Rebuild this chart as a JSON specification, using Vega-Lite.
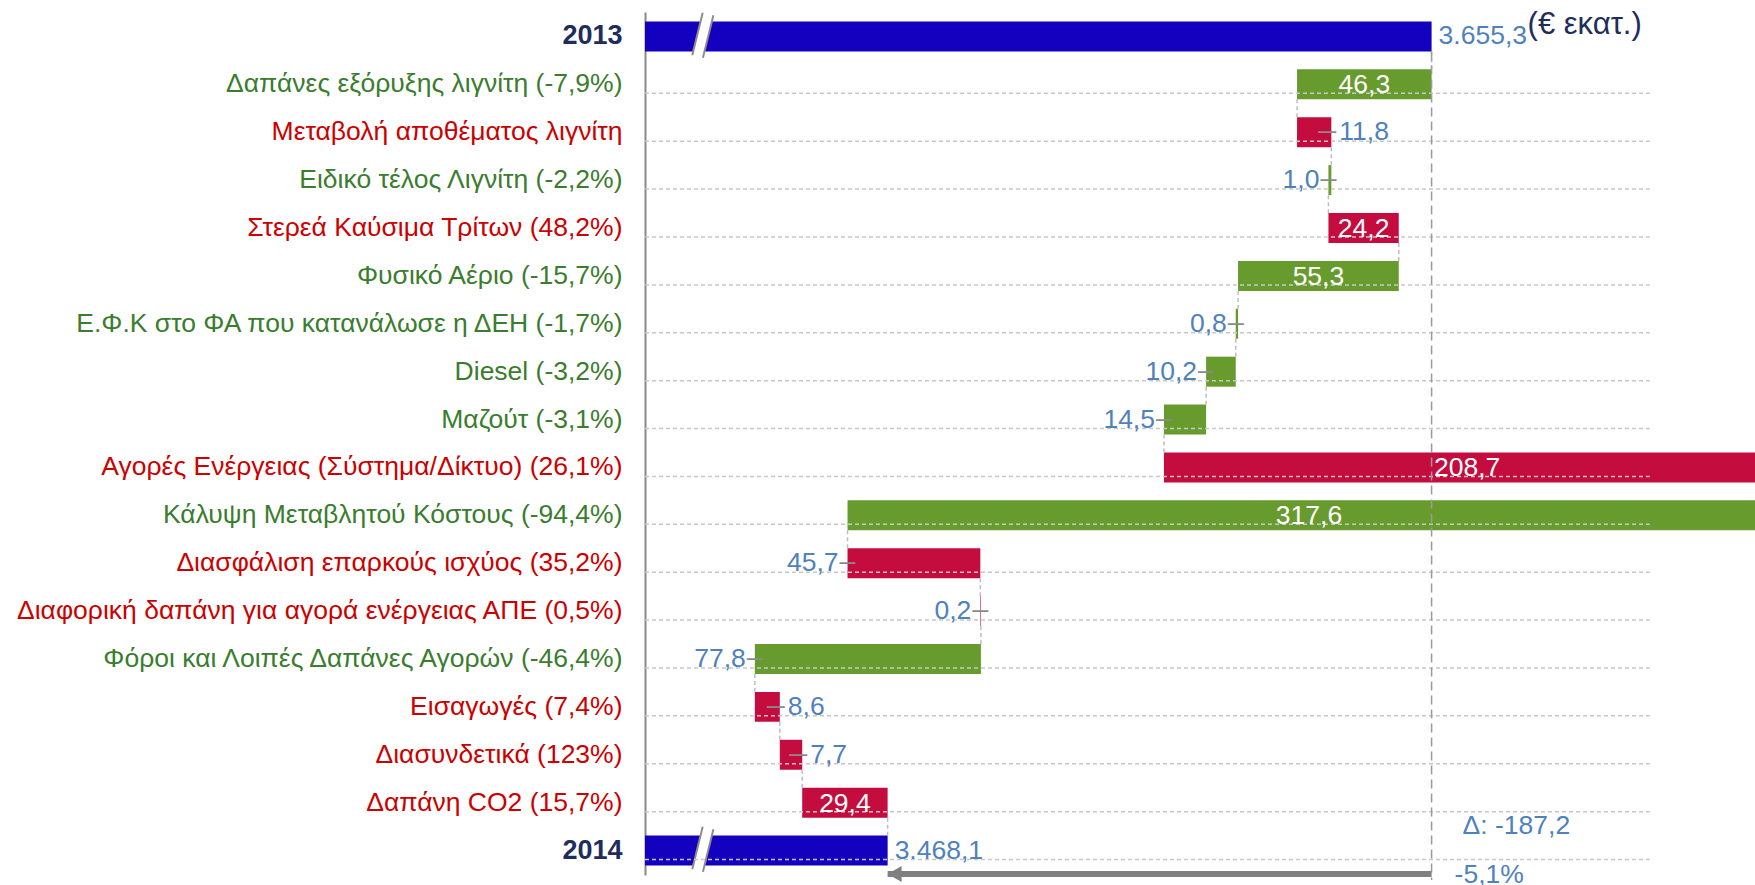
{
  "$schema": "https://vega.github.io/schema/vega-lite/v6.json",
  "width": 1110,
  "height": 863,
  "autosize": {"type": "none"},
  "padding": {"left": 645, "top": 12, "right": 0, "bottom": 10},
  "background": "white",
  "config": {
    "view": {"stroke": null},
    "font": "Liberation Sans",
    "locale": {"number": {"decimal": ",", "thousands": ".", "grouping": [3], "currency": ["", " €"], "minus": "-"}}
  },
  "datasets": {
    "steps": [
      {"label": "2013", "kind": "total", "amount": 3655.3, "start": 3655.3, "end": 3655.3},
      {"label": "Δαπάνες εξόρυξης λιγνίτη (-7,9%)", "kind": "decrease", "amount": 46.3, "start": 3655.3, "end": 3609.0},
      {"label": "Μεταβολή αποθέματος λιγνίτη", "kind": "increase", "amount": 11.8, "start": 3609.0, "end": 3620.8},
      {"label": "Ειδικό τέλος Λιγνίτη (-2,2%)", "kind": "decrease", "amount": 1.0, "start": 3620.8, "end": 3619.8},
      {"label": "Στερεά Καύσιμα Τρίτων (48,2%)", "kind": "increase", "amount": 24.2, "start": 3619.8, "end": 3644.0},
      {"label": "Φυσικό Αέριο (-15,7%)", "kind": "decrease", "amount": 55.3, "start": 3644.0, "end": 3588.7},
      {"label": "Ε.Φ.Κ στο ΦΑ που κατανάλωσε η ΔΕΗ  (-1,7%)", "kind": "decrease", "amount": 0.8, "start": 3588.7, "end": 3587.9},
      {"label": "Diesel (-3,2%)", "kind": "decrease", "amount": 10.2, "start": 3587.9, "end": 3577.7},
      {"label": "Μαζούτ (-3,1%)", "kind": "decrease", "amount": 14.5, "start": 3577.7, "end": 3563.2},
      {"label": "Αγορές Ενέργειας (Σύστημα/Δίκτυο) (26,1%)", "kind": "increase", "amount": 208.7, "start": 3563.2, "end": 3771.9},
      {"label": "Κάλυψη Μεταβλητού Κόστους  (-94,4%)", "kind": "decrease", "amount": 317.6, "start": 3771.9, "end": 3454.3},
      {"label": "Διασφάλιση επαρκούς ισχύος (35,2%)", "kind": "increase", "amount": 45.7, "start": 3454.3, "end": 3500.0},
      {"label": "Διαφορική δαπάνη για αγορά ενέργειας ΑΠΕ (0,5%)", "kind": "increase", "amount": 0.2, "start": 3500.0, "end": 3500.2},
      {"label": "Φόροι και Λοιπές Δαπάνες Αγορών (-46,4%)", "kind": "decrease", "amount": 77.8, "start": 3500.2, "end": 3422.4},
      {"label": "Εισαγωγές (7,4%)", "kind": "increase", "amount": 8.6, "start": 3422.4, "end": 3431.0},
      {"label": "Διασυνδετικά (123%)", "kind": "increase", "amount": 7.7, "start": 3431.0, "end": 3438.7},
      {"label": "Δαπάνη CO2 (15,7%)", "kind": "increase", "amount": 29.4, "start": 3438.7, "end": 3468.1},
      {"label": "2014", "kind": "total", "amount": 3468.1, "start": 3468.1, "end": 3468.1}
    ],
    "summary": [
      {"from": 3655.3, "to": 3468.1, "delta": -187.2, "pct": -5.1}
    ]
  },
  "data": {"name": "steps"},
  "layer": [
    {
      "mark": {"type": "bar", "clip": true},
      "encoding": {
        "x": {"field": "start", "type": "quantitative", "scale": {"domain": [3384.6, 3766.6], "zero": false, "nice": false}, "axis": null},
        "x2": {"field": "end"},
        "y": {"field": "label", "type": "nominal", "sort": null, "scale": {"paddingInner": 0.374, "paddingOuter": 0.198}, "title": null,
          "axis": {
            "domainColor": "#888888", "domainWidth": 2, "ticks": false, "labelPadding": 23, "labelLimit": 1000,
            "labelFont": "Liberation Sans",
            "labelFontSize": {"condition": {"test": "datum.value === '2013' || datum.value === '2014'", "value": 27}, "value": 26.5},
            "labelFontWeight": {"condition": {"test": "datum.value === '2013' || datum.value === '2014'", "value": "bold"}, "value": "normal"},
            "labelColor": {"condition": [
              {"test": "datum.value === '2013' || datum.value === '2014'", "value": "#1F2D5C"},
              {"test": "indexof(datum.value + '', '(-') >= 0", "value": "#3A7D2E"}
            ], "value": "#CC0000"}
          }
        },
        "color": {"field": "kind", "type": "nominal", "scale": {"domain": ["increase", "decrease", "total"], "range": ["#C40D3E", "#679B2D", "#1400BF"]}, "legend": null}
      }
    },
    {
      "transform": [{"filter": "datum.kind === 'total'"}],
      "mark": {"type": "bar", "clip": true, "color": "#1400BF"},
      "encoding": {
        "x": {"field": "end", "type": "quantitative", "scale": {"domain": [3384.6, 3766.6], "zero": false, "nice": false}, "axis": null},
        "y": {"field": "label", "type": "nominal", "sort": null}
      }
    },
    {
      "transform": [
        {"window": [{"op": "lag", "field": "label", "as": "prev"}]},
        {"filter": "isValid(datum.prev)"}
      ],
      "mark": {"type": "rule", "color": "#bdbdbd", "strokeWidth": 1.5, "strokeDash": [4, 3], "yOffset": 15, "y2Offset": -15},
      "encoding": {
        "x": {"field": "start", "type": "quantitative", "scale": {"domain": [3384.6, 3766.6], "zero": false, "nice": false}, "axis": null},
        "y": {"field": "prev", "type": "nominal", "sort": null},
        "y2": {"field": "label"}
      }
    },
    {
      "transform": [{"filter": "datum.kind === 'total'"}],
      "mark": {"type": "rule", "color": "#8c8c8c", "strokeWidth": 13, "strokeCap": "butt", "yOffset": 20, "y2Offset": -22.5},
      "encoding": {
        "x": {"datum": 3402.7, "type": "quantitative", "scale": {"domain": [3384.6, 3766.6], "zero": false, "nice": false}, "axis": null},
        "x2": {"datum": 3406.3},
        "y": {"field": "label", "type": "nominal", "sort": null},
        "y2": {"field": "label"}
      }
    },
    {
      "transform": [{"filter": "datum.kind === 'total'"}],
      "mark": {"type": "rule", "color": "white", "strokeWidth": 9, "strokeCap": "square", "yOffset": 20, "y2Offset": -22.5},
      "encoding": {
        "x": {"datum": 3402.7, "type": "quantitative", "scale": {"domain": [3384.6, 3766.6], "zero": false, "nice": false}, "axis": null},
        "x2": {"datum": 3406.3},
        "y": {"field": "label", "type": "nominal", "sort": null},
        "y2": {"field": "label"}
      }
    },
    {
      "transform": [{"filter": "datum.label !== '2013'"}],
      "mark": {"type": "rule", "color": "#c8c8c8", "strokeWidth": 1.5, "strokeDash": [4, 3]},
      "encoding": {
        "x": {"datum": 3384.6, "type": "quantitative", "scale": {"domain": [3384.6, 3766.6], "zero": false, "nice": false}, "axis": null},
        "x2": {"datum": 3730.4},
        "y": {"field": "label", "type": "nominal", "sort": null, "bandPosition": 0.8}
      }
    },
    {
      "data": {"name": "summary"},
      "mark": {"type": "rule", "color": "#9a9a9a", "strokeWidth": 1.5, "strokeDash": [9, 5], "y2Offset": 5},
      "encoding": {
        "x": {"field": "from", "type": "quantitative", "scale": {"domain": [3384.6, 3766.6], "zero": false, "nice": false}, "axis": null},
        "y": {"datum": "2013", "type": "nominal", "sort": null, "bandPosition": 1},
        "y2": {"value": "height"}
      }
    },
    {
      "transform": [{"filter": "datum.kind === 'total'"}],
      "mark": {"type": "text", "align": "left", "baseline": "middle", "dx": 7, "fontSize": 26.5, "color": "#4F81BD"},
      "encoding": {
        "x": {"field": "end", "type": "quantitative", "scale": {"domain": [3384.6, 3766.6], "zero": false, "nice": false}, "axis": null},
        "y": {"field": "label", "type": "nominal", "sort": null},
        "text": {"field": "amount", "type": "quantitative", "format": ",.1f"}
      }
    },
    {
      "transform": [
        {"filter": "datum.kind !== 'total'"},
        {"fold": ["start", "end"], "as": ["k", "v"]},
        {"aggregate": [
          {"op": "mean", "field": "v", "as": "mid"},
          {"op": "min", "field": "v", "as": "lo"},
          {"op": "max", "field": "v", "as": "hi"}
        ], "groupby": ["label", "amount", "kind"]}
      ],
      "layer": [
        {
          "transform": [{"filter": "datum.amount >= 20 && datum.amount !== 45.7 && datum.amount !== 77.8"}],
          "mark": {"type": "text", "align": "center", "baseline": "middle", "fontSize": 26.5, "dy": 1, "color": "white"},
          "encoding": {
            "x": {"field": "mid", "type": "quantitative", "scale": {"domain": [3384.6, 3766.6], "zero": false, "nice": false}, "axis": null},
            "y": {"field": "label", "type": "nominal", "sort": null},
            "text": {"field": "amount", "type": "quantitative", "format": ".1f"}
          }
        },
        {
          "transform": [{"filter": "datum.kind === 'increase' && datum.amount < 20 && datum.amount > 1"}],
          "mark": {"type": "text", "align": "center", "baseline": "middle", "fontSize": 18, "fontWeight": "bold", "dx": -4, "color": "#8a8a8a", "text": "—"},
          "encoding": {
            "x": {"field": "hi", "type": "quantitative", "scale": {"domain": [3384.6, 3766.6], "zero": false, "nice": false}, "axis": null},
            "y": {"field": "label", "type": "nominal", "sort": null}
          }
        },
        {
          "transform": [{"filter": "datum.kind === 'increase' && datum.amount < 20 && datum.amount > 1"}],
          "mark": {"type": "text", "align": "left", "baseline": "middle", "fontSize": 26.5, "dx": 8, "color": "#4F81BD"},
          "encoding": {
            "x": {"field": "hi", "type": "quantitative", "scale": {"domain": [3384.6, 3766.6], "zero": false, "nice": false}, "axis": null},
            "y": {"field": "label", "type": "nominal", "sort": null},
            "text": {"field": "amount", "type": "quantitative", "format": ".1f"}
          }
        },
        {
          "transform": [{"filter": "!(datum.amount >= 20 && datum.amount !== 45.7 && datum.amount !== 77.8) && !(datum.kind === 'increase' && datum.amount < 20 && datum.amount > 1)"}],
          "mark": {"type": "text", "align": "center", "baseline": "middle", "fontSize": 16, "fontWeight": "bold", "dx": 0, "color": "#8a8a8a", "text": "—"},
          "encoding": {
            "x": {"field": "lo", "type": "quantitative", "scale": {"domain": [3384.6, 3766.6], "zero": false, "nice": false}, "axis": null},
            "y": {"field": "label", "type": "nominal", "sort": null}
          }
        },
        {
          "transform": [{"filter": "!(datum.amount >= 20 && datum.amount !== 45.7 && datum.amount !== 77.8) && !(datum.kind === 'increase' && datum.amount < 20 && datum.amount > 1)"}],
          "mark": {"type": "text", "align": "right", "baseline": "middle", "fontSize": 26.5, "dx": -9, "color": "#4F81BD"},
          "encoding": {
            "x": {"field": "lo", "type": "quantitative", "scale": {"domain": [3384.6, 3766.6], "zero": false, "nice": false}, "axis": null},
            "y": {"field": "label", "type": "nominal", "sort": null},
            "text": {"field": "amount", "type": "quantitative", "format": ".1f"}
          }
        }
      ]
    },
    {
      "data": {"name": "summary"},
      "layer": [
        {
          "mark": {"type": "rule", "color": "#808080", "strokeWidth": 6, "yOffset": -1},
          "encoding": {
            "x": {"field": "from", "type": "quantitative", "scale": {"domain": [3384.6, 3766.6], "zero": false, "nice": false}, "axis": null},
            "x2": {"field": "to"},
            "y": {"value": "height"}
          }
        },
        {
          "mark": {"type": "point", "shape": "triangle-left", "filled": true, "size": 260, "color": "#808080", "opacity": 1, "yOffset": -1, "xOffset": 7},
          "encoding": {
            "x": {"field": "to", "type": "quantitative", "scale": {"domain": [3384.6, 3766.6], "zero": false, "nice": false}, "axis": null},
            "y": {"value": "height"}
          }
        },
        {
          "mark": {"type": "text", "align": "left", "baseline": "middle", "fontSize": 31, "dx": 96, "dy": -11, "color": "#1F2D5C", "text": "(€ εκατ.)"},
          "encoding": {
            "x": {"field": "from", "type": "quantitative", "scale": {"domain": [3384.6, 3766.6], "zero": false, "nice": false}, "axis": null},
            "y": {"datum": "2013", "type": "nominal", "sort": null}
          }
        },
        {
          "mark": {"type": "text", "align": "left", "baseline": "middle", "fontSize": 26.5, "dx": 31, "dy": -49, "color": "#4F81BD", "text": {"expr": "'Δ: ' + format(datum.delta, '.1f')"}},
          "encoding": {
            "x": {"field": "from", "type": "quantitative", "scale": {"domain": [3384.6, 3766.6], "zero": false, "nice": false}, "axis": null},
            "y": {"value": "height"}
          }
        },
        {
          "mark": {"type": "text", "align": "left", "baseline": "middle", "fontSize": 26.5, "dx": 23, "dy": 0, "color": "#4F81BD", "text": {"expr": "format(datum.pct, '.1f') + '%'"}},
          "encoding": {
            "x": {"field": "from", "type": "quantitative", "scale": {"domain": [3384.6, 3766.6], "zero": false, "nice": false}, "axis": null},
            "y": {"value": "height"}
          }
        }
      ]
    }
  ]
}
